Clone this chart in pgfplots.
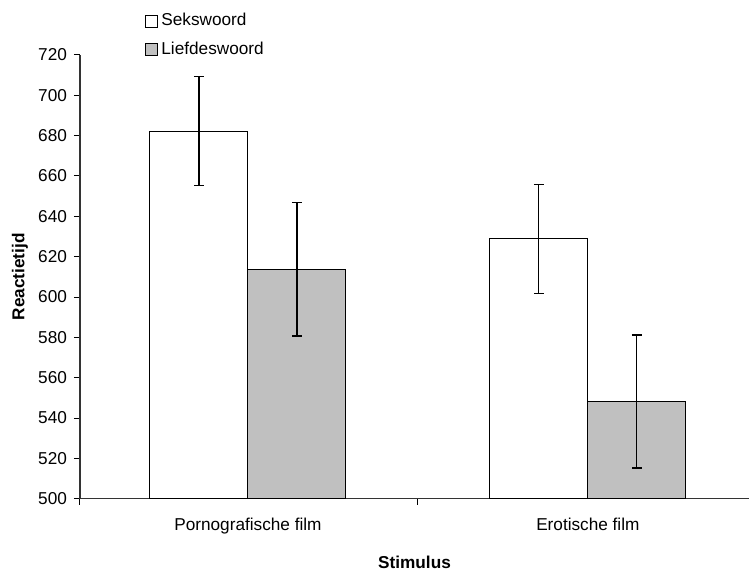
\documentclass[border=0pt]{standalone}
\usepackage{pgfplots}
\pgfplotsset{compat=1.18}
\usepackage{fontspec}
\setmainfont{Liberation Sans}
\begin{document}
\begin{tikzpicture}[font=\fontsize{8.6}{10}\selectfont]
\begin{axis}[
  name=ax,
  scale only axis,
  width=334.5pt, height=221.85pt,
  xmin=-0.494, xmax=1.474,
  ymin=500, ymax=720,
  ytick={500,520,...,720},
  axis lines=left,
  axis line style={-, line width=0.7pt, color=black!80},
  tick align=outside,
  major tick length=3pt,
  tick style={black, line width=0.5pt},
  xtick={-0.494,0.5},
  xticklabels={},
  extra x ticks={0,1},
  extra x tick labels={Pornografische film, Erotische film},
  extra x tick style={major tick length=0pt, tick style={draw=none},
     xticklabel style={yshift=-6pt}},
  /pgf/number format/assume math mode=true,
  ylabel={\bfseries Reactietijd},
  ylabel style={at={(axis description cs:-0.0897,0.5)}, anchor=center},
  xlabel={\bfseries Stimulus},
  xlabel style={at={(axis description cs:0.5,0)}, anchor=center, yshift=-32pt},
  clip=false,
  ybar=0pt,
  bar width=49pt,
  legend style={at={(rel axis cs:0.0972,1.1014)}, anchor=north west,
     draw=none, fill=none, row sep=3.5pt, inner sep=0pt,
     nodes={inner sep=1.5pt}},
  legend cell align=left,
  legend image code/.code={\draw[#1, draw=black, line width=0.5pt] (0.5pt,-3pt) rectangle (6.5pt,3pt);},
]
\addplot+[fill=white, draw=black, line width=0.5pt,
  error bars/.cd, y dir=both, y explicit,
  error bar style={black, line width=0.6pt},
  error mark options={black, mark size=2.5pt, rotate=90, line width=0.6pt}]
  coordinates {(0,682.3) +- (0,27) (1,628.8) +- (0,27)};
\addplot+[fill={rgb,255:red,192;green,192;blue,192}, draw=black, line width=0.5pt,
  error bars/.cd, y dir=both, y explicit,
  error bar style={black, line width=0.6pt},
  error mark options={black, mark size=2.5pt, rotate=90, line width=0.6pt}]
  coordinates {(0,613.7) +- (0,33) (1,548.2) +- (0,33)};
\legend{Sekswoord, Liefdeswoord}
\end{axis}
\pgfresetboundingbox
\path (ax.south west) ++(-40pt,-36.15pt) rectangle ++(374.5pt,285.5pt);
\end{tikzpicture}
\end{document}
